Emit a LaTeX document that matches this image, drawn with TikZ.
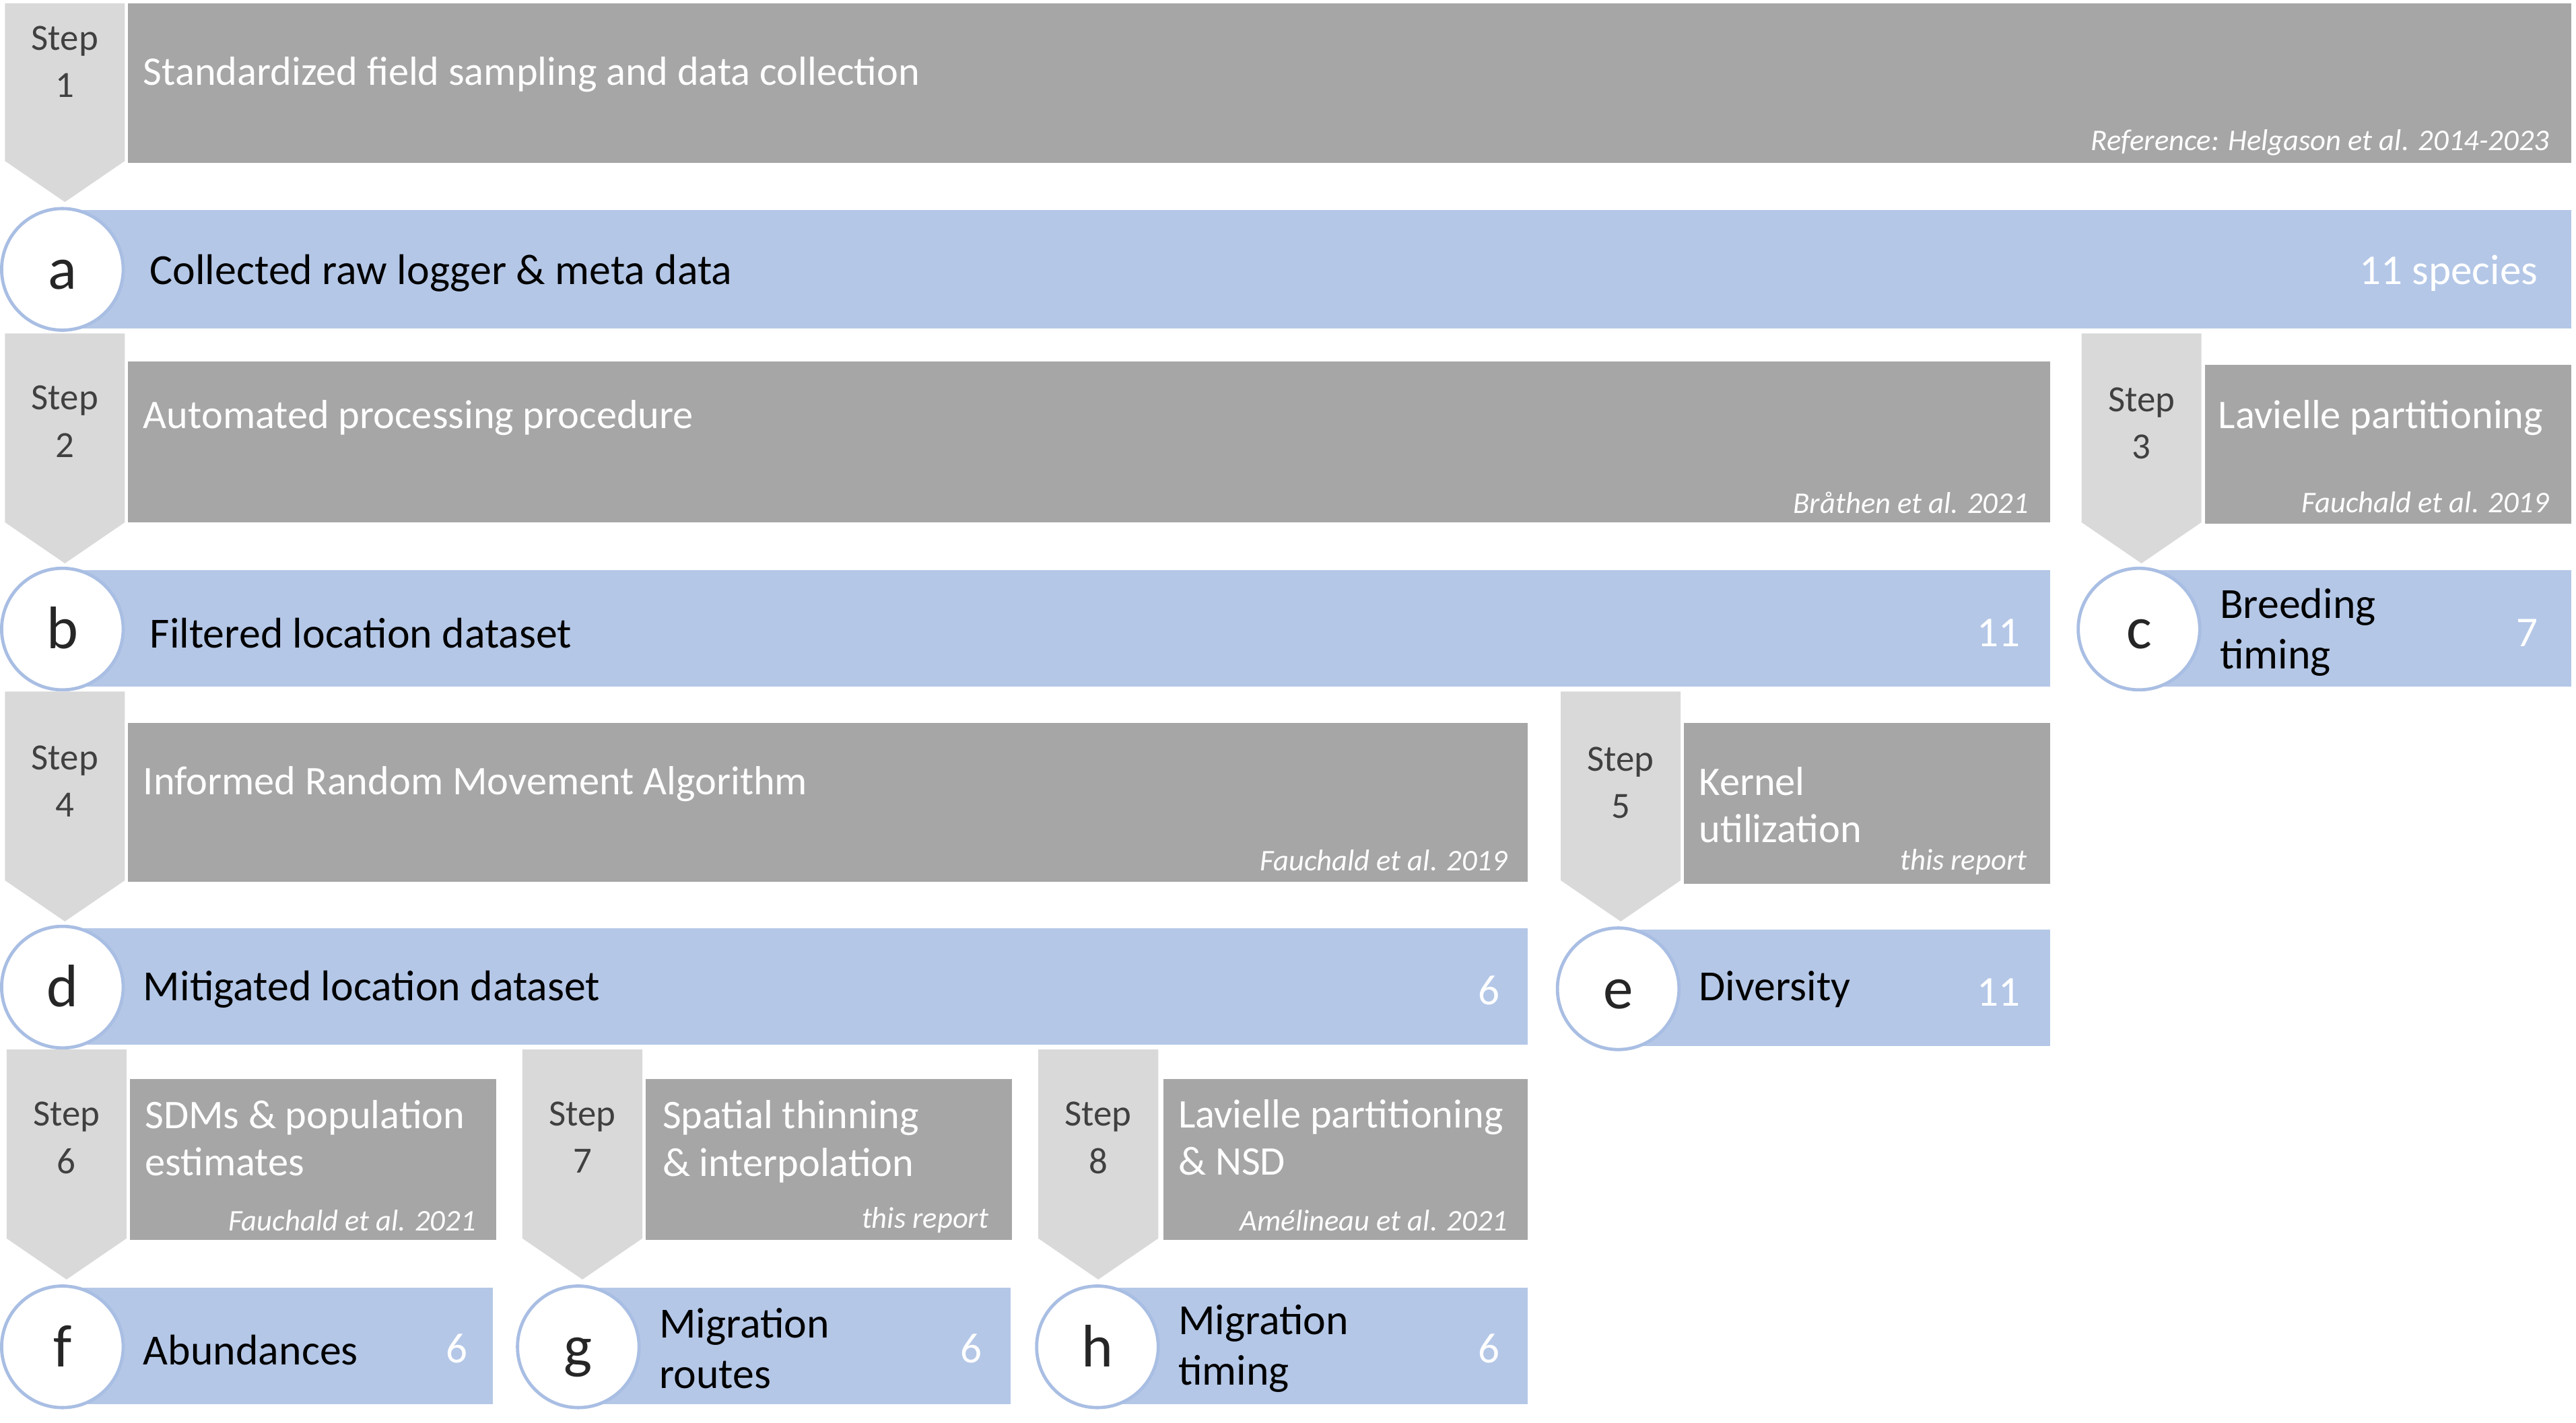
\documentclass[tikz,border=0pt]{standalone}
\usepackage{fontspec}
\setmainfont{Carlito}
\definecolor{boxgray}{HTML}{A6A6A6}
\definecolor{stepgray}{HTML}{D9D9D9}
\definecolor{barblue}{HTML}{B4C7E7}
\definecolor{circblue}{HTML}{A9BEE3}
\definecolor{steptext}{HTML}{404040}
\tikzset{
 boxtxt/.style={text=white, font=\fontsize{17.6}{20.5}\selectfont, anchor=west, align=left, inner sep=0},
 citetxt/.style={text=white, font=\itshape\fontsize{13}{15}\selectfont, anchor=east, inner sep=0},
 bartxt/.style={text=black, font=\fontsize{18.6}{22}\selectfont, anchor=west, align=left, inner sep=0},
 numtxt/.style={text=white, font=\fontsize{18.4}{22}\selectfont, anchor=east, inner sep=0},
 steptxt/.style={text=steptext, font=\fontsize{16}{19}\selectfont, inner sep=0},
 letternode/.style={circle, draw=circblue, line width=1.4pt, fill=white, minimum size=1.85cm, inner sep=0, text height=17pt, text depth=0pt, font=\fontsize{26}{26}\selectfont, text=black!85},
}
% #1 left x, #2 top y, #3 body height, #4 name, #5 number, #6 y of "Step"
\newcommand\StepShape[6]{%
 \fill[stepgray] (#1,#2) -- (#1+73,#2) -- (#1+73,#2+#3) -- (#1+36.5,#2+#3+25) -- (#1,#2+#3) -- cycle;
 \node[steptxt] (#4w) at (#1+36.5,#6) {Step};
 \node[steptxt] (#4n) at (#1+36.5,#6+27) {#5};
}
\begin{document}
\begin{tikzpicture}[x=0.025cm, y=-0.025cm]
\useasboundingbox (0,0) rectangle (1568,866);

% ---------- Step 1 ----------
\StepShape{3}{2}{96}{s1}{1}{25}
\fill[boxgray] (78,2) rectangle (1565,99);
\node[boxtxt] (t1) at (87,45.5) {Standardized field sampling and data collection};
\node[citetxt] (r1) at (1552,87) {Reference: Helgason et al. 2014-2023};

% ---------- Row a ----------
\fill[barblue] (38,128) rectangle (1565,200);
\node[letternode] (ca) at (38,164) {a};
\node[bartxt] (ba) at (91,166.5) {Collected raw logger \& meta data};
\node[numtxt] (na) at (1545,166.5) {11 species};

% ---------- Step 2 ----------
\StepShape{3}{203}{115}{s2}{2}{244}
\fill[boxgray] (78,220) rectangle (1248,318);
\node[boxtxt] (t2) at (87,254.5) {Automated processing procedure};
\node[citetxt] (r2) at (1235,306) {Bråthen et al. 2021};

% ---------- Step 3 ----------
\StepShape{1267}{203}{115}{s3}{3}{245}
\fill[boxgray] (1342,222) rectangle (1565,319);
\node[boxtxt] (t3) at (1350,254.5) {Lavielle partitioning};
\node[citetxt] (r3) at (1552,306) {Fauchald et al. 2019};

% ---------- Row b ----------
\fill[barblue] (38,347) rectangle (1248,418);
\node[letternode] (cb) at (38,383) {b};
\node[bartxt] (bb) at (91,385.5) {Filtered location dataset};
\node[numtxt] (nb) at (1230,385.5) {11};

% ---------- Row c ----------
\fill[barblue] (1302,347) rectangle (1565,418);
\node[letternode] (cc) at (1302,383) {c};
\node[bartxt] (bc) at (1351,385) {Breeding\\timing};
\node[numtxt] (nc) at (1545,385.5) {7};

% ---------- Step 4 ----------
\StepShape{3}{421}{115}{s4}{4}{463}
\fill[boxgray] (78,440) rectangle (930,537);
\node[boxtxt] (t4) at (87,477.5) {Informed Random Movement Algorithm};
\node[citetxt] (r4) at (918,524) {Fauchald et al. 2019};

% ---------- Step 5 ----------
\StepShape{950}{421}{115}{s5}{5}{464}
\fill[boxgray] (1025,440) rectangle (1248,538);
\node[boxtxt] (t5) at (1034,490) {Kernel\\utilization};
\node[citetxt] (r5) at (1234,525) {this report};

% ---------- Row d ----------
\fill[barblue] (38,565) rectangle (930,636);
\node[letternode] (cd) at (38,601) {d};
\node[bartxt] (bd) at (87,602.5) {Mitigated location dataset};
\node[numtxt] (nd) at (913,603) {6};

% ---------- Row e ----------
\fill[barblue] (985,566) rectangle (1248,637);
\node[letternode] (ce) at (985,602) {e};
\node[bartxt] (be) at (1034,602.5) {Diversity};
\node[numtxt] (ne) at (1230,604) {11};

% ---------- Step 6 ----------
\StepShape{4}{639}{115}{s6}{6}{680}
\fill[boxgray] (79,657) rectangle (302,755);
\node[boxtxt] (t6) at (88,693) {SDMs \& population\\estimates};
\node[citetxt] (r6) at (290,743) {Fauchald et al. 2021};

% ---------- Step 7 ----------
\StepShape{318}{639}{115}{s7}{7}{680}
\fill[boxgray] (393,657) rectangle (616,755);
\node[boxtxt] (t7) at (403,695) {Spatial thinning\\\& interpolation};
\node[citetxt] (r7) at (602,743) {this report};

% ---------- Step 8 ----------
\StepShape{632}{639}{115}{s8}{8}{680}
\fill[boxgray] (708,657) rectangle (930,755);
\node[boxtxt] (t8) at (717,692.5) {Lavielle partitioning\\\& NSD};
\node[citetxt] (r8) at (918,743) {Amélineau et al. 2021};

% ---------- Row f ----------
\fill[barblue] (38,784) rectangle (300,855);
\node[letternode] (cf) at (38,820) {f};
\node[bartxt] (bf) at (87,822) {Abundances};
\node[numtxt] (nf) at (285,821) {6};

% ---------- Row g ----------
\fill[barblue] (352,784) rectangle (615,855);
\node[letternode] (cg) at (352,820) {g};
\node[bartxt] (bg) at (401,821) {Migration\\routes};
\node[numtxt] (ng) at (598,821) {6};

% ---------- Row h ----------
\fill[barblue] (668,784) rectangle (930,855);
\node[letternode] (ch) at (668,820) {h};
\node[bartxt] (bh) at (717,821) {Migration\\timing};
\node[numtxt] (nh) at (913,821) {6};

\end{tikzpicture}
\end{document}
